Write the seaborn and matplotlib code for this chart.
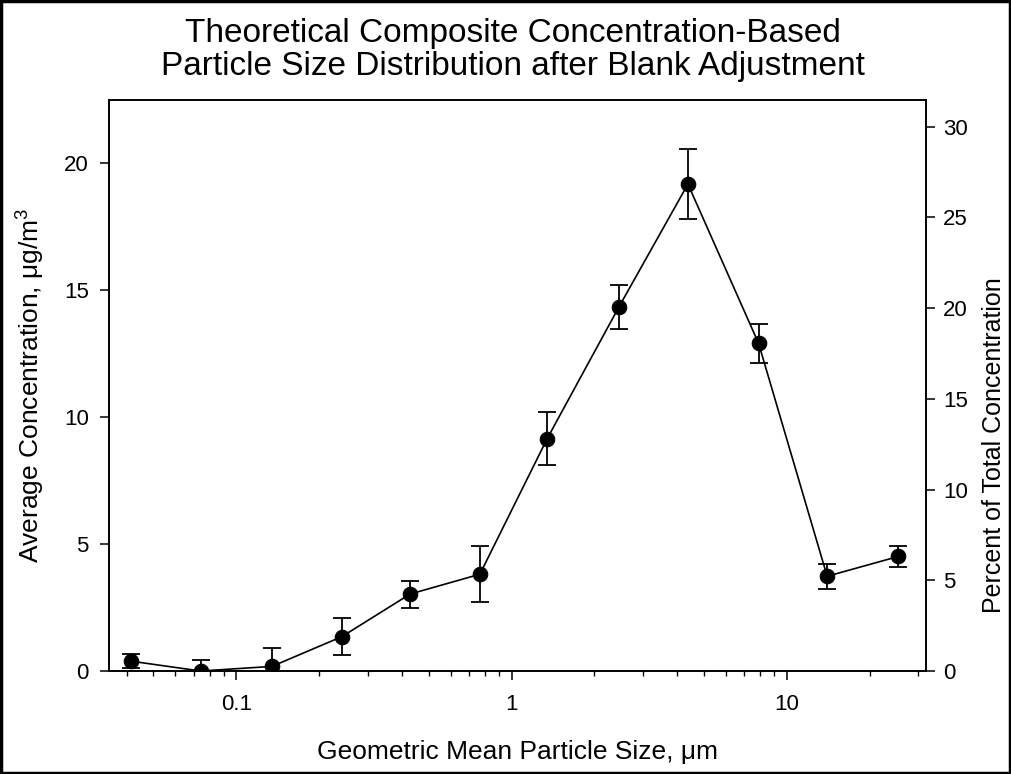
import numpy as np
import pandas as pd
import matplotlib
matplotlib.use("Agg")
import matplotlib.pyplot as plt
import seaborn as sns
from matplotlib.ticker import FixedLocator, FuncFormatter, LogLocator, NullFormatter
from matplotlib.patches import Rectangle

# ---- data ----
particle_size = [0.0413, 0.0742, 0.1347, 0.2417, 0.428, 0.767, 1.347, 2.456, 4.37, 7.89, 14.0, 25.4]
concentration = [0.39, 0.00, 0.18, 1.35, 3.03, 3.81, 9.15, 14.34, 19.17, 12.90, 3.73, 4.51]
error = [0.29, 0.42, 0.73, 0.72, 0.53, 1.10, 1.03, 0.87, 1.38, 0.77, 0.50, 0.40]
x_ticks = [0.1, 1, 10]
x_tick_labels = ["0.1", "1", "10"]
left_ticks = [0, 5, 10, 15, 20]
right_ticks = [0, 5, 10, 15, 20, 25, 30]

df = pd.DataFrame({"size": particle_size, "conc": concentration, "err": error})

sns.set_style("ticks")
plt.rcParams["font.family"] = ["Liberation Sans", "DejaVu Sans"]
plt.rcParams["mathtext.fontset"] = "custom"
plt.rcParams["mathtext.rm"] = "Liberation Sans"
plt.rcParams["mathtext.it"] = "Liberation Sans"
plt.rcParams["text.color"] = "black"
plt.rcParams["axes.labelcolor"] = "black"
plt.rcParams["xtick.color"] = "black"
plt.rcParams["ytick.color"] = "black"

fig = plt.figure(figsize=(10.11, 7.74), dpi=100)
ax = fig.add_axes([109/1011, 1-671/774, (926-109)/1011, (671-99.5)/774])

ax.errorbar(df["size"], df["conc"], yerr=df["err"], fmt="none", ecolor="black",
            elinewidth=1.3, capsize=6.3, capthick=1.3, zorder=2)
sns.lineplot(data=df, x="size", y="conc", ax=ax, color="black", linewidth=1.2,
             marker="o", markersize=10.5, markerfacecolor="black",
             markeredgecolor="black", sort=False, zorder=3)

ax.set_xscale("log")
ax.set_xlim(0.0345, 32)
ax.set_ylim(0, 22.5)
ax.xaxis.set_major_locator(FixedLocator(x_ticks))
ax.xaxis.set_major_formatter(FuncFormatter(lambda v, p: x_tick_labels[x_ticks.index(v)] if v in x_ticks else ""))
ax.xaxis.set_minor_locator(LogLocator(base=10, subs=np.arange(2, 10)))
ax.xaxis.set_minor_formatter(NullFormatter())
ax.set_yticks(left_ticks)

for s in ax.spines.values():
    s.set_color("black")
    s.set_linewidth(1.2)

ax.tick_params(axis="both", which="major", direction="out", length=6.5, width=1.1,
               labelsize=16, colors="black", pad=8)
ax.tick_params(axis="x", which="minor", direction="out", length=3.6, width=1.0)
ax.tick_params(axis="x", which="major", pad=10)
ax.tick_params(top=False, which="both")

ax.set_xlabel("Geometric Mean Particle Size, μm", fontsize=19, labelpad=18)
ax.set_ylabel("Average Concentration, μg/m$^3$", fontsize=19, labelpad=12)

ax2 = ax.twinx()
ax2.set_ylim(0, 31.5)
ax2.set_yticks(right_ticks)
ax2.tick_params(axis="y", direction="out", length=6.5, width=1.1, labelsize=16, pad=6, colors="black")
for s in ax2.spines.values():
    s.set_color("black")
    s.set_linewidth(1.2)

fig.text(1006/1011, 1-445/774, "Percent of Total Concentration", rotation=90,
         ha="right", va="center", fontsize=18)

fig.text(0.507, 1-50/774, "Theoretical Composite Concentration-Based\nParticle Size Distribution after Blank Adjustment",
         ha="center", va="center", fontsize=24, linespacing=1.1)

fig.patches.append(Rectangle((0.001, 0.001), 0.998, 0.998, transform=fig.transFigure,
                             fill=False, edgecolor="black", linewidth=2.5))

fig.savefig("out.png", dpi=100)
